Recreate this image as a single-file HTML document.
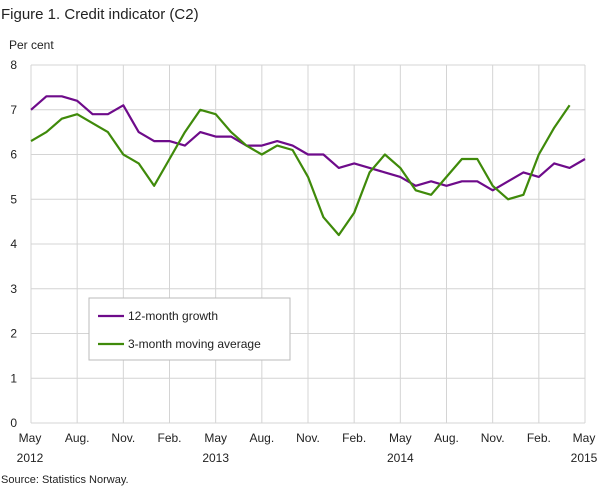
<!DOCTYPE html>
<html><head><meta charset="utf-8"><style>
body{margin:0;background:#fff;}
svg{display:block;font-family:"Liberation Sans","DejaVu Sans",sans-serif;}
</style></head><body>
<svg width="609" height="488" xmlns="http://www.w3.org/2000/svg">
<text x="1" y="19" font-size="15" fill="#222">Figure 1. Credit indicator (C2)</text>
<text x="9" y="49" font-size="12" fill="#222">Per cent</text>
<g stroke="#d4d4d4" stroke-width="1" id="grid"></g>
<g id="ylab" font-size="12" fill="#222" text-anchor="end"></g>
<g id="xlab" font-size="12" fill="#222" text-anchor="middle"></g>
<polyline id="p" fill="none" stroke="#6e0b8a" stroke-width="2.2" stroke-linejoin="round"/>
<polyline id="g" fill="none" stroke="#3f8a0a" stroke-width="2.2" stroke-linejoin="round"/>
<rect x="89" y="298" width="201" height="62" fill="#fff" stroke="#bbb"/>
<line x1="98" y1="316" x2="124" y2="316" stroke="#6e0b8a" stroke-width="2.2"/>
<text x="128" y="320" font-size="12" fill="#222">12-month growth</text>
<line x1="98" y1="344" x2="124" y2="344" stroke="#3f8a0a" stroke-width="2.2"/>
<text x="128" y="348" font-size="12" fill="#222">3-month moving average</text>
<text x="1" y="483" font-size="11" fill="#222">Source: Statistics Norway.</text>
</svg>
<script>
var ns="http://www.w3.org/2000/svg";
function X(i){return 31+i*(554/36);}
function Y(v){return 423-v*44.75;}
var gr=document.getElementById('grid'),yl=document.getElementById('ylab'),xl=document.getElementById('xlab');
function el(p,t,a,txt){var e=document.createElementNS(ns,t);for(var k in a)e.setAttribute(k,a[k]);if(txt)e.textContent=txt;p.appendChild(e);}
for(var v=0;v<=8;v++){el(gr,'line',{x1:31,x2:585,y1:Y(v),y2:Y(v)});el(yl,'text',{x:17,y:Y(v)+4},String(v));}
var labs=['May','Aug.','Nov.','Feb.','May','Aug.','Nov.','Feb.','May','Aug.','Nov.','Feb.','May'];
var yrs={0:'2012',4:'2013',8:'2014',12:'2015'};
for(var i=0;i<=12;i++){var x=X(i*3);el(gr,'line',{x1:x,x2:x,y1:Y(8),y2:Y(0)});
var ax=i==0?31+1:(i==12?585-1:x);
el(xl,'text',{x:i==0?30:(i==12?584:x),y:442},labs[i]);if(yrs[i])el(xl,'text',{x:i==0?30:(i==12?584:x),y:462},yrs[i]);}
var P=[7.0,7.3,7.3,7.2,6.9,6.9,7.1,6.5,6.3,6.3,6.2,6.5,6.4,6.4,6.2,6.2,6.3,6.2,6.0,6.0,5.7,5.8,5.7,5.6,5.5,5.3,5.4,5.3,5.4,5.4,5.2,5.4,5.6,5.5,5.8,5.7,5.9];
var G=[6.3,6.5,6.8,6.9,6.7,6.5,6.0,5.8,5.3,5.9,6.5,7.0,6.9,6.5,6.2,6.0,6.2,6.1,5.5,4.6,4.2,4.7,5.6,6.0,5.7,5.2,5.1,5.5,5.9,5.9,5.3,5.0,5.1,6.0,6.6,7.1];
function pts(a){return a.map(function(v,i){return X(i).toFixed(1)+','+Y(v).toFixed(1)}).join(' ');}
document.getElementById('p').setAttribute('points',pts(P));
document.getElementById('g').setAttribute('points',pts(G));
</script>
</body></html>
